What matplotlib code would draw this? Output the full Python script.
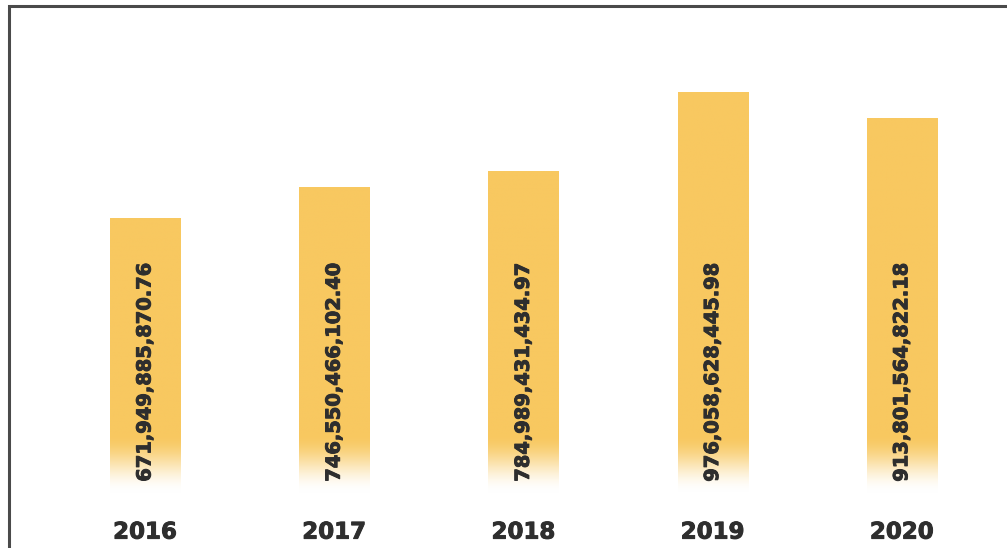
import matplotlib
matplotlib.use("Agg")
import matplotlib.pyplot as plt
import matplotlib.patheffects as pe
import numpy as np
from matplotlib.patches import Rectangle

years = ["2016", "2017", "2018", "2019", "2020"]
values = [671949885870.76, 746550466102.40, 784989431434.97,
          976058628445.98, 913801564822.18]
value_labels = ["671,949,885,870.76", "746,550,466,102.40", "784,989,431,434.97",
                "976,058,628,445.98", "913,801,564,822.18"]

top_color = np.array([248, 200, 96]) / 255.0
white = np.array([1.0, 1.0, 1.0])
fade_lo, fade_hi = 10e9, 150e9
bar_w = 0.37
heavy = [pe.withStroke(linewidth=0.7, foreground="#2e2e2e")]

fig = plt.figure(figsize=(10.07, 5.48), dpi=100)
fig.patches.append(Rectangle((9 / 1007, -0.05), 1.1, 1 - 6 / 548 + 0.05,
                             transform=fig.transFigure, fill=False,
                             edgecolor="#4a4a4a", linewidth=2.2))

ax = fig.add_axes([50.4 / 1007, 51 / 548, 946 / 1007, 476.7 / 548])
ax.set_xlim(-0.5, 4.5)
ax.set_ylim(0, 1.15e12)

for i, v in enumerate(values):
    ys = np.linspace(0, v, 400)
    t = np.clip((ys - fade_lo) / (fade_hi - fade_lo), 0, 1)
    t = t * t * (3 - 2 * t)
    cols = white[None, :] * (1 - t[:, None]) + top_color[None, :] * t[:, None]
    img = np.repeat(cols[::-1][:, None, :], 2, axis=1)
    ax.imshow(img, extent=[i - bar_w / 2, i + bar_w / 2, 0, v],
              aspect="auto", interpolation="bilinear", zorder=1)
    ax.annotate(value_labels[i], (i, 0), xytext=(0, 11), textcoords="offset points",
                rotation=90, ha="center", va="bottom", fontsize=14,
                fontweight="bold", color="#2e2e2e", zorder=3, path_effects=heavy)

ax.set_xticks(range(len(years)))
ax.set_xticklabels(years, fontsize=16.5, fontweight="bold", color="#2e2e2e")
for lbl in ax.get_xticklabels():
    lbl.set_path_effects(heavy)
ax.tick_params(axis="x", length=0, pad=17)
ax.set_yticks([])
for s in ax.spines.values():
    s.set_visible(False)
ax.patch.set_alpha(0)

fig.savefig("out.png", dpi=100)
